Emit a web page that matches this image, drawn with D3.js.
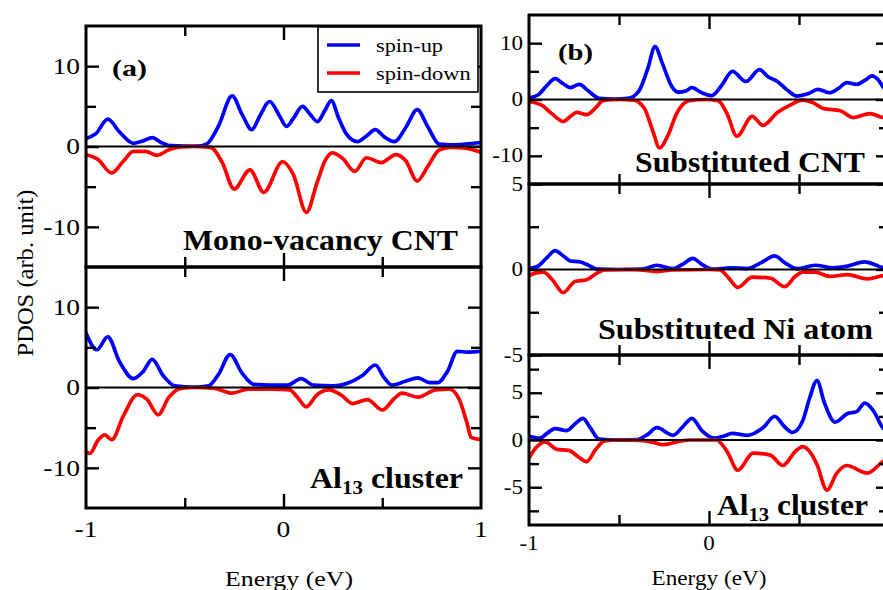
<!DOCTYPE html>
<html><head><meta charset="utf-8">
<script src="https://cdn.jsdelivr.net/npm/d3@7"></script>
<style>
body{margin:0;background:#fff}
svg{display:block;background:#fff}
</style>
</head><body>
<svg id="chart" width="883" height="590" font-family="Liberation Serif" style="font-family:'Liberation Serif'"></svg>
<script>
// ---------------- data ----------------
const energyMajorTicks = [-1, 0, 1];
const energyMinorTicks = [-0.5, 0.5];
const energyTickLabels = ["-1", "0", "1"];
const seriesNames = ["spin-up", "spin-down"];
const seriesColors = ["#0000ff", "#ff0000"];
const xAxisTitle = "Energy (eV)";
const yAxisTitle = "PDOS (arb. unit)";
const panelLetters = ["(a)", "(b)"];

// (a) Mono-vacancy CNT  [energy eV, PDOS]
const aCntUp = [[-1.0,1.0],[-0.95,1.6],[-0.89,3.4],[-0.83,1.8],[-0.76,0.4],[-0.71,0.7],[-0.665,1.1],[-0.62,0.5],[-0.57,0.1],[-0.5,0.05],[-0.44,0.05],[-0.39,0.3],[-0.33,2.5],[-0.26,6.3],[-0.21,4.0],[-0.16,2.1],[-0.12,3.8],[-0.07,5.6],[-0.02,3.8],[0.015,2.5],[0.05,3.5],[0.096,5.0],[0.135,4.0],[0.172,3.1],[0.21,4.5],[0.242,5.7],[0.28,3.5],[0.32,1.5],[0.374,0.6],[0.42,1.3],[0.465,2.1],[0.51,1.2],[0.561,0.6],[0.62,2.4],[0.677,4.6],[0.73,2.5],[0.788,0.3],[0.85,0.2],[0.92,0.3],[1.0,0.5]];
const aCntDown = [[-1.0,-1.0],[-0.94,-1.6],[-0.87,-3.3],[-0.81,-1.8],[-0.76,-0.6],[-0.70,-0.6],[-0.64,-1.1],[-0.58,-0.4],[-0.52,-0.05],[-0.45,0],[-0.37,-0.1],[-0.31,-2.0],[-0.25,-5.3],[-0.17,-2.9],[-0.10,-5.7],[-0.005,-1.9],[0.05,-3.5],[0.116,-8.2],[0.17,-4.5],[0.21,-1.8],[0.247,-0.8],[0.30,-1.5],[0.36,-3.1],[0.42,-1.4],[0.495,-2.0],[0.57,-1.0],[0.62,-1.8],[0.677,-4.3],[0.73,-2.5],[0.79,-0.4],[0.85,-0.1],[0.92,-0.2],[1.0,-0.7]];
// (a) Al13 cluster
const aAlUp = [[-1.0,6.8],[-0.945,4.7],[-0.89,6.3],[-0.83,3.2],[-0.76,1.1],[-0.71,2.0],[-0.665,3.5],[-0.61,1.5],[-0.55,0.2],[-0.45,0.05],[-0.38,0.2],[-0.33,1.6],[-0.27,4.1],[-0.21,1.8],[-0.15,0.4],[-0.06,0.3],[0.02,0.3],[0.09,1.1],[0.15,0.3],[0.25,0.2],[0.32,0.5],[0.40,1.5],[0.465,2.8],[0.51,1.2],[0.55,0.3],[0.62,0.8],[0.68,1.2],[0.74,0.6],[0.78,0.6],[0.83,2.0],[0.88,4.5],[0.93,4.4],[1.0,4.5]];
const aAlDown = [[-1.0,-8.0],[-0.98,-8.2],[-0.94,-6.6],[-0.905,-5.9],[-0.87,-6.5],[-0.81,-3.5],[-0.74,-0.9],[-0.69,-1.5],[-0.635,-3.4],[-0.58,-1.2],[-0.52,-0.1],[-0.45,0],[-0.35,-0.1],[-0.26,-0.7],[-0.18,-0.2],[-0.05,-0.2],[0.03,-0.3],[0.07,-1.2],[0.115,-2.4],[0.17,-0.9],[0.23,-0.3],[0.29,-0.9],[0.35,-2.0],[0.425,-1.5],[0.5,-2.8],[0.56,-1.4],[0.60,-0.7],[0.68,-1.2],[0.77,-0.3],[0.84,-0.2],[0.89,-1.5],[0.93,-4.5],[0.95,-6.2],[1.0,-6.5]];
// (b) Substituted CNT
const bCntUp = [[-1.0,0.3],[-0.95,0.8],[-0.9,2.5],[-0.855,3.7],[-0.81,2.8],[-0.77,2.1],[-0.72,2.7],[-0.67,1.5],[-0.61,0.2],[-0.53,0.05],[-0.45,0.2],[-0.39,1.5],[-0.34,5.5],[-0.3,9.4],[-0.26,6.5],[-0.21,2.5],[-0.17,1.3],[-0.13,1.5],[-0.095,2.1],[-0.04,1.2],[0.015,0.7],[0.07,2.5],[0.13,5.0],[0.205,3.2],[0.28,5.3],[0.33,4.0],[0.38,3.2],[0.43,1.8],[0.49,0.6],[0.55,1.0],[0.605,1.8],[0.67,1.2],[0.72,2.0],[0.765,3.0],[0.82,2.7],[0.87,3.5],[0.905,4.2],[0.94,3.5],[0.97,2.1],[1.0,1.2]];
const bCntDown = [[-1.0,-0.4],[-0.93,-1.0],[-0.87,-2.6],[-0.81,-3.9],[-0.77,-3.0],[-0.735,-2.3],[-0.68,-2.7],[-0.63,-1.5],[-0.59,-0.2],[-0.5,0],[-0.42,-0.1],[-0.36,-1.5],[-0.31,-5.8],[-0.275,-8.6],[-0.23,-6.5],[-0.18,-2.5],[-0.11,-0.2],[-0.02,0],[0.05,-0.2],[0.1,-2.5],[0.155,-6.5],[0.24,-3.0],[0.3,-4.6],[0.38,-2.3],[0.45,-1.0],[0.52,-0.1],[0.58,-0.6],[0.635,-1.6],[0.73,-2.0],[0.8,-3.2],[0.895,-2.5],[0.97,-3.2],[1.0,-2.9]];
// (b) Substituted Ni atom
const bNiUp = [[-1.0,0.05],[-0.95,0.2],[-0.9,0.7],[-0.855,1.1],[-0.81,0.8],[-0.77,0.5],[-0.72,0.45],[-0.67,0.25],[-0.62,0.02],[-0.5,0],[-0.37,0.02],[-0.29,0.25],[-0.2,0.05],[-0.14,0.35],[-0.09,0.65],[-0.04,0.3],[0.02,0.02],[0.12,0.1],[0.21,0.05],[0.29,0.4],[0.365,0.8],[0.42,0.4],[0.49,0.05],[0.59,0.25],[0.69,0.1],[0.77,0.2],[0.865,0.45],[0.93,0.25],[0.97,0.1],[1.0,0.1]];
const bNiDown = [[-1.0,-0.35],[-0.96,-0.2],[-0.92,-0.15],[-0.87,-0.6],[-0.81,-1.35],[-0.745,-0.7],[-0.68,-0.6],[-0.62,-0.2],[-0.58,-0.03],[-0.45,0],[-0.35,-0.05],[-0.29,-0.12],[-0.2,-0.03],[0.0,0],[0.06,-0.03],[0.11,-0.5],[0.16,-1.05],[0.24,-0.45],[0.34,-0.5],[0.42,-1.0],[0.48,-0.4],[0.52,-0.15],[0.59,-0.15],[0.67,-0.4],[0.77,-0.3],[0.88,-0.55],[0.97,-0.35],[1.0,-0.3]];
// (b) Al13 cluster
const bAlUp = [[-1.0,0.4],[-0.94,0.2],[-0.9,0.7],[-0.855,1.2],[-0.79,1.0],[-0.745,1.7],[-0.7,2.3],[-0.66,1.3],[-0.61,0.1],[-0.5,0],[-0.4,0.05],[-0.34,0.6],[-0.29,1.3],[-0.2,0.5],[-0.15,1.3],[-0.095,2.3],[-0.04,1.0],[0.03,0.2],[0.08,0.4],[0.13,0.7],[0.215,0.5],[0.3,1.3],[0.365,2.5],[0.42,1.4],[0.465,0.8],[0.52,2.0],[0.56,4.5],[0.6,6.3],[0.64,4.0],[0.7,1.9],[0.77,2.8],[0.82,3.0],[0.865,3.9],[0.91,3.2],[0.965,1.3],[1.0,0.8]];
const bAlDown = [[-1.0,-1.9],[-0.96,-0.8],[-0.91,-0.2],[-0.845,-1.0],[-0.78,-1.1],[-0.725,-1.8],[-0.68,-2.3],[-0.63,-1.0],[-0.58,-0.1],[-0.5,0],[-0.38,-0.05],[-0.3,-0.3],[-0.255,-0.5],[-0.18,-0.2],[-0.1,0],[0.04,0],[0.1,-1.2],[0.16,-3.2],[0.245,-1.4],[0.34,-1.6],[0.41,-2.7],[0.48,-1.2],[0.52,-0.7],[0.57,-1.5],[0.6,-2.6],[0.655,-5.3],[0.71,-3.5],[0.765,-2.7],[0.88,-3.5],[0.965,-2.3],[1.0,-1.9]];

const subplotTitles = ["Mono-vacancy CNT", "Al|13| cluster", "Substituted CNT", "Substituted Ni atom", "Al|13| cluster"];
const yDomains = [[-15,15],[-15,15],[-15,15],[-5,5],[-9,9]];
const yMajorTicks = [[-10,0,10],[-10,0,10],[-10,0,10],[-5,0,5],[-5,0,5]];
const yMinorTicks = [[-5,5],[-5,5],[-5,5],[-2.5,2.5],[-7.5,-2.5,2.5,7.5]];

// ---------------- layout ----------------
const svg = d3.select("#chart");
const SERIF = "'Liberation Serif'";

const panels = [
  {x0: 86, x1: 481, tickFont: 24, tickEnd: 80, xLabBase: 537, xLabels: [0,1,2], xTitle: {cx: 289, base: 586, size: 22, w: 128}},
  {x0: 529, x1: 889, tickFont: 20, tickEnd: 523, xLabBase: 550, xLabels: [0,1], xTitle: {cx: 709, base: 585, size: 21, w: 115}}
];
const subplots = [
  {p: 0, y0: 26, y1: 267, up: aCntUp, down: aCntDown, t: {x: 183, base: 250, w: 275}},
  {p: 0, y0: 267, y1: 508, up: aAlUp, down: aAlDown, t: {x: 310, base: 488, w: 153}},
  {p: 1, y0: 15, y1: 184, up: bCntUp, down: bCntDown, t: {x: 635, base: 172, w: 230}},
  {p: 1, y0: 184, y1: 355, up: bNiUp, down: bNiDown, t: {x: 598, base: 339, w: 275}},
  {p: 1, y0: 355, y1: 525, up: bAlUp, down: bAlDown, t: {x: 717, base: 515, w: 151}}
];

// helper: serif text, stretched horizontally to a target width
function fitText(parent, parts, x, y, size, targetW, opts = {}) {
  const g = parent.append("g").attr("transform", `translate(${x},${y})${opts.rotate ? " rotate(" + opts.rotate + ")" : ""}`);
  const t = g.append("text")
    .attr("text-anchor", opts.anchor || "start")
    .style("font-family", SERIF)
    .style("font-size", size + "px")
    .style("font-weight", opts.weight || "normal")
    .style("fill", "#000");
  if (parts.length === 1) {
    t.text(parts[0]);
  } else {
    parts.forEach((s, i) => {
      if (i % 2 === 1) {
        t.append("tspan").style("font-size", (size * 0.66) + "px").attr("dy", size * 0.2).text(s);
      } else {
        const ts = t.append("tspan").text(s);
        if (i > 0) ts.attr("dy", -size * 0.2);
      }
    });
  }
  let sx = opts.sx || 1;
  if (targetW) {
    const w = t.node().getBBox().width;
    if (w > 0) sx = targetW / w;
  }
  t.attr("transform", `scale(${sx},1)`);
  return t;
}

// draw tick lines using an axis generator, stripping its default font settings
function tickAxis(parent, axis, tx, ty) {
  const a = parent.append("g").attr("transform", `translate(${tx},${ty})`).call(axis);
  a.attr("font-family", null).attr("font-size", null).attr("text-anchor", null);
  a.select(".domain").remove();
  a.selectAll(".tick text").remove();
  a.selectAll(".tick line").attr("stroke", "#000").attr("stroke-width", 2.4);
}

const defs = svg.append("defs");

subplots.forEach((sp, i) => {
  const P = panels[sp.p];
  const x = d3.scaleLinear().domain([-1, 1]).range([P.x0, P.x1]);
  const y = d3.scaleLinear().domain(yDomains[i]).range([sp.y1, sp.y0]);
  const g = svg.append("g");

  defs.append("clipPath").attr("id", "clip" + i).append("rect")
    .attr("x", P.x0).attr("y", sp.y0).attr("width", P.x1 - P.x0).attr("height", sp.y1 - sp.y0);

  const line = d3.line().x(d => x(d[0])).y(d => y(d[1])).curve(d3.curveMonotoneX);
  const plot = g.append("g").attr("clip-path", `url(#clip${i})`);
  [sp.up, sp.down].forEach((data, k) => {
    plot.append("path").datum(data).attr("d", line)
      .attr("fill", "none").attr("stroke", seriesColors[k]).attr("stroke-width", 3.7)
      .attr("stroke-linejoin", "round").attr("stroke-linecap", "round");
  });
  // zero line
  g.append("line").attr("x1", x(-1)).attr("x2", x(1)).attr("y1", y(0)).attr("y2", y(0))
    .attr("stroke", "#000").attr("stroke-width", 2.2);

  // y axes (left and right, ticks inward)
  tickAxis(g, d3.axisRight(y).tickValues(yMajorTicks[i]).tickSize(13).tickFormat(""), P.x0, 0);
  tickAxis(g, d3.axisRight(y).tickValues(yMinorTicks[i]).tickSize(10).tickFormat(""), P.x0, 0);
  tickAxis(g, d3.axisLeft(y).tickValues(yMajorTicks[i]).tickSize(13).tickFormat(""), P.x1, 0);
  tickAxis(g, d3.axisLeft(y).tickValues(yMinorTicks[i]).tickSize(10).tickFormat(""), P.x1, 0);
  // x axes (top & bottom, ticks inward)
  tickAxis(g, d3.axisBottom(x).tickValues([0]).tickSize(14).tickFormat(""), 0, sp.y0);
  tickAxis(g, d3.axisBottom(x).tickValues(energyMinorTicks).tickSize(10).tickFormat(""), 0, sp.y0);
  tickAxis(g, d3.axisTop(x).tickValues([0]).tickSize(14).tickFormat(""), 0, sp.y1);
  tickAxis(g, d3.axisTop(x).tickValues(energyMinorTicks).tickSize(10).tickFormat(""), 0, sp.y1);

  // y tick labels
  yMajorTicks[i].forEach(v => {
    fitText(g, [String(v)], P.tickEnd, y(v) + P.tickFont * 0.33, P.tickFont, null, {anchor: "end", sx: 1.15});
  });

  // frame
  g.append("rect").attr("x", P.x0).attr("y", sp.y0).attr("width", P.x1 - P.x0).attr("height", sp.y1 - sp.y0)
    .attr("fill", "none").attr("stroke", "#000").attr("stroke-width", 3);

  // subplot title
  fitText(g, subplotTitles[i].split("|"), sp.t.x, sp.t.base, 30, sp.t.w, {weight: "bold"});
});

// x tick labels & axis titles
panels.forEach((P) => {
  const x = d3.scaleLinear().domain([-1, 1]).range([P.x0, P.x1]);
  P.xLabels.forEach(k => {
    fitText(svg, [energyTickLabels[k]], x(energyMajorTicks[k]), P.xLabBase, P.tickFont, null, {anchor: "middle", sx: 1.15});
  });
  fitText(svg, [xAxisTitle], P.xTitle.cx, P.xTitle.base, P.xTitle.size, P.xTitle.w, {anchor: "middle"});
});

// panel letters
fitText(svg, [panelLetters[0]], 112, 76, 24, 35, {weight: "bold"});
fitText(svg, [panelLetters[1]], 558, 60, 24, 35, {weight: "bold"});

// y axis title
fitText(svg, [yAxisTitle], 33, 273, 24, 167, {anchor: "middle", rotate: -90});

// legend
const leg = svg.append("g");
leg.append("rect").attr("x", 318).attr("y", 27).attr("width", 160).attr("height", 65)
  .attr("fill", "#fff").attr("stroke", "#000").attr("stroke-width", 1.6);
const legW = [67, 95];
seriesNames.forEach((name, k) => {
  const ly = 45 + k * 28;
  leg.append("line").attr("x1", 327).attr("x2", 360).attr("y1", ly).attr("y2", ly)
    .attr("stroke", seriesColors[k]).attr("stroke-width", 3.7);
  fitText(leg, [name], 376, ly + 7, 19.5, legW[k]);
});
</script>
</body></html>
